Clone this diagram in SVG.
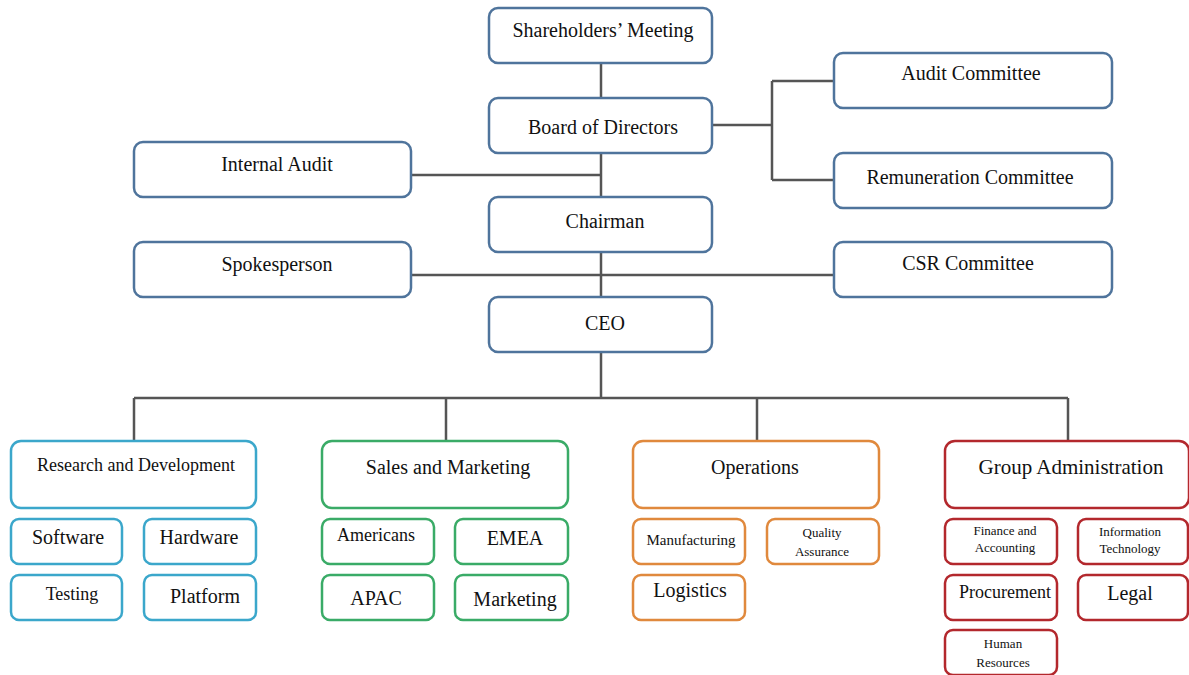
<svg xmlns="http://www.w3.org/2000/svg" width="1189" height="675" viewBox="0 0 1189 675">
<style>
text{font-family:'Liberation Serif','Times New Roman',Times,'Nimbus Roman','Nimbus Roman No9 L','Noto Serif','DejaVu Serif',Georgia,serif;fill:#111;text-anchor:middle}
.top{fill:#fff;stroke:#4f749c;stroke-width:2.5}
.rd{fill:#fff;stroke:#3ba7cb;stroke-width:2.5}
.sm{fill:#fff;stroke:#3aab67;stroke-width:2.5}
.op{fill:#fff;stroke:#e0893d;stroke-width:2.5}
.ga{fill:#fff;stroke:#b3282d;stroke-width:2.5}
.conn{fill:none;stroke:#555;stroke-width:2.5}
</style>
<rect width="1189" height="675" fill="#fff"/>
<g id="connectors" class="conn">
<path d="M601 63V297"/>
<path d="M712 125H772M772 81V180M772 81H834M772 180H834"/>
<path d="M411 175H601"/>
<path d="M411 275H834"/>
<path d="M601 352V398M134 398H1068M134 398V441M446 398V441M757 398V441M1068 398V441"/>
</g>
<g id="shareholders"><rect class="top" x="489" y="8" width="223" height="55" rx="9"/><text x="603" y="37" font-size="20">Shareholders’ Meeting</text></g>
<g id="board"><rect class="top" x="489" y="98" width="223" height="55" rx="9"/><text x="603" y="134" font-size="20">Board of Directors</text></g>
<g id="chairman"><rect class="top" x="489" y="197" width="223" height="55" rx="9"/><text x="605" y="228" font-size="20">Chairman</text></g>
<g id="ceo"><rect class="top" x="489" y="297" width="223" height="55" rx="9"/><text x="605" y="330" font-size="20">CEO</text></g>
<g id="internal-audit"><rect class="top" x="134" y="142" width="277" height="55" rx="9"/><text x="277" y="171" font-size="20">Internal Audit</text></g>
<g id="spokesperson"><rect class="top" x="134" y="242" width="277" height="55" rx="9"/><text x="277" y="271" font-size="20">Spokesperson</text></g>
<g id="audit-committee"><rect class="top" x="834" y="53" width="278" height="55" rx="9"/><text x="971" y="80" font-size="20">Audit Committee</text></g>
<g id="remuneration"><rect class="top" x="834" y="153" width="278" height="55" rx="9"/><text x="970" y="184" font-size="20">Remuneration Committee</text></g>
<g id="csr"><rect class="top" x="834" y="242" width="278" height="55" rx="9"/><text x="968" y="270" font-size="20">CSR Committee</text></g>

<g id="rnd"><rect class="rd" x="11" y="441" width="245" height="67" rx="10"/><text x="136" y="471" font-size="18">Research and Development</text></g>
<g id="software"><rect class="rd" x="11" y="519" width="111" height="45" rx="8"/><text x="68" y="544" font-size="20">Software</text></g>
<g id="hardware"><rect class="rd" x="144" y="519" width="112" height="45" rx="8"/><text x="199" y="544" font-size="20">Hardware</text></g>
<g id="testing"><rect class="rd" x="11" y="575" width="111" height="45" rx="8"/><text x="72" y="600" font-size="18">Testing</text></g>
<g id="platform"><rect class="rd" x="144" y="575" width="112" height="45" rx="8"/><text x="205" y="603" font-size="20">Platform</text></g>

<g id="sales"><rect class="sm" x="322" y="441" width="246" height="67" rx="10"/><text x="448" y="474" font-size="20">Sales and Marketing</text></g>
<g id="americans"><rect class="sm" x="322" y="519" width="112" height="45" rx="8"/><text x="376" y="541" font-size="18">Americans</text></g>
<g id="emea"><rect class="sm" x="455" y="519" width="113" height="45" rx="8"/><text x="515" y="545" font-size="20">EMEA</text></g>
<g id="apac"><rect class="sm" x="322" y="575" width="112" height="45" rx="8"/><text x="376" y="605" font-size="20">APAC</text></g>
<g id="marketing"><rect class="sm" x="455" y="575" width="113" height="45" rx="8"/><text x="515" y="606" font-size="20">Marketing</text></g>

<g id="operations"><rect class="op" x="633" y="441" width="246" height="67" rx="10"/><text x="755" y="474" font-size="20">Operations</text></g>
<g id="manufacturing"><rect class="op" x="633" y="519" width="112" height="45" rx="8"/><text x="691" y="545" font-size="15">Manufacturing</text></g>
<g id="qa"><rect class="op" x="767" y="519" width="112" height="45" rx="8"/><text x="822" y="537" font-size="13">Quality</text><text x="822" y="556" font-size="13">Assurance</text></g>
<g id="logistics"><rect class="op" x="633" y="575" width="112" height="45" rx="8"/><text x="690" y="597" font-size="20">Logistics</text></g>

<g id="group-admin"><rect class="ga" x="945" y="441" width="244" height="67" rx="10"/><text x="1071" y="474" font-size="21">Group Administration</text></g>
<g id="finance"><rect class="ga" x="945" y="519" width="112" height="45" rx="8"/><text x="1005" y="535" font-size="13">Finance and</text><text x="1005" y="552" font-size="13">Accounting</text></g>
<g id="it"><rect class="ga" x="1078" y="519" width="110" height="45" rx="8"/><text x="1130" y="536" font-size="13">Information</text><text x="1130" y="553" font-size="13">Technology</text></g>
<g id="procurement"><rect class="ga" x="945" y="575" width="112" height="45" rx="8"/><text x="1005" y="598" font-size="18">Procurement</text></g>
<g id="legal"><rect class="ga" x="1078" y="575" width="110" height="45" rx="8"/><text x="1130" y="600" font-size="20">Legal</text></g>
<g id="hr"><rect class="ga" x="945" y="630" width="112" height="45" rx="8"/><text x="1003" y="648" font-size="13">Human</text><text x="1003" y="667" font-size="13">Resources</text></g>
</svg>
